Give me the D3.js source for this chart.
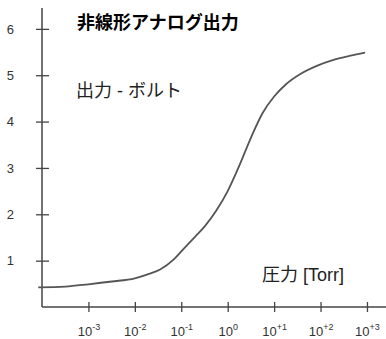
<!DOCTYPE html>
<html>
<head>
<meta charset="utf-8">
<script src="https://cdn.jsdelivr.net/npm/d3@7/dist/d3.min.js"></script>
<style>
  html, body { margin: 0; padding: 0; background: #fff; }
  svg { display: block; }
  text { font-family: "Liberation Sans", Arial, "Noto Sans CJK JP", sans-serif; }
</style>
</head>
<body>
<svg id="chart" width="386" height="339"></svg>
<script>
// Pressure (Torr) and the corresponding analog output (V)
const pressure = [8.3e-5, 3.2e-4, 1e-3, 3.2e-3, 1e-2, 2.1e-2, 3.5e-2, 6.8e-2, 0.1,
                  0.2, 0.32, 0.56, 1, 1.78, 3.16, 5.62, 10, 17.8, 36, 83, 190, 440, 910];
const voltage  = [0.425, 0.44, 0.49, 0.55, 0.62, 0.72, 0.81, 1.02, 1.20,
                  1.52, 1.74, 2.07, 2.50, 3.05, 3.65, 4.18, 4.54, 4.80, 5.02, 5.20, 5.33, 5.42, 5.49];
const yTicks = [1, 2, 3, 4, 5, 6];
const xTicks = [1e-3, 1e-2, 1e-1, 1, 10, 100, 1000];
const xTickExp = ["-3", "-2", "-1", "0", "+1", "+2", "+3"];

const title = "非線形アナログ出力";
const yTitle = "出力 - ボルト";
const xTitle = "圧力 [Torr]";

const svg = d3.select("#chart");
const x0 = 42, y0 = 307;

const x = d3.scaleLog().domain([1e-4, Math.pow(10, 3.41)]).range([x0, 386]);
const y = d3.scaleLinear().domain([0, 6.45]).range([y0, 8]);

const axisColor = "#444";

// Y axis: line plus ticks crossing it
const yAxis = svg.append("g").attr("transform", `translate(${x0},0)`)
  .call(d3.axisLeft(y).tickValues(yTicks).tickFormat(d3.format("d"))
    .tickSize(6).tickPadding(22).tickSizeOuter(0));
yAxis.select(".domain").attr("stroke", axisColor).attr("stroke-width", 1.5).attr("d", `M0,${y0}V8`);
yAxis.selectAll(".tick line").attr("stroke", axisColor).attr("stroke-width", 1.3).attr("x1", 7).attr("x2", -6);
yAxis.selectAll(".tick text").attr("font-size", 13).attr("fill", "#333");

// X axis
const xAxis = svg.append("g").attr("transform", `translate(0,${y0})`)
  .call(d3.axisBottom(x).tickValues(xTicks).tickSize(5).tickSizeOuter(0).tickFormat(""));
xAxis.select(".domain").attr("stroke", axisColor).attr("stroke-width", 1.5).attr("d", `M${x0},0H386`);
xAxis.selectAll(".tick line").attr("stroke", axisColor).attr("stroke-width", 1.3).attr("y1", -5).attr("y2", 5);
xAxis.selectAll(".tick text").each(function(d, i) {
  const t = d3.select(this).attr("y", 0).attr("dy", 0).attr("font-size", 13).attr("fill", "#333")
    .attr("transform", "translate(0,29)");
  t.text(null);
  t.append("tspan").text("10");
  t.append("tspan").attr("dy", -6).attr("font-size", 9).text(xTickExp[i]);
});

// Output curve
const pts = pressure.map((p, i) => [p, voltage[i]]);
const line = d3.line()
  .x(d => x(d[0]))
  .y(d => y(d[1]))
  .curve(d3.curveMonotoneX);
svg.append("path").datum(pts)
  .attr("d", line)
  .attr("fill", "none")
  .attr("stroke", "#555")
  .attr("stroke-width", 1.8);

// Titles
svg.append("text").attr("x", 77).attr("y", 29).attr("font-size", 18).attr("font-weight", "bold")
  .attr("fill", "#000").text(title);
svg.append("text").attr("x", 76).attr("y", 97).attr("font-size", 18).attr("fill", "#222").text(yTitle);
svg.append("text").attr("x", 262).attr("y", 281).attr("font-size", 18).attr("fill", "#222").text(xTitle);
</script>
</body>
</html>
